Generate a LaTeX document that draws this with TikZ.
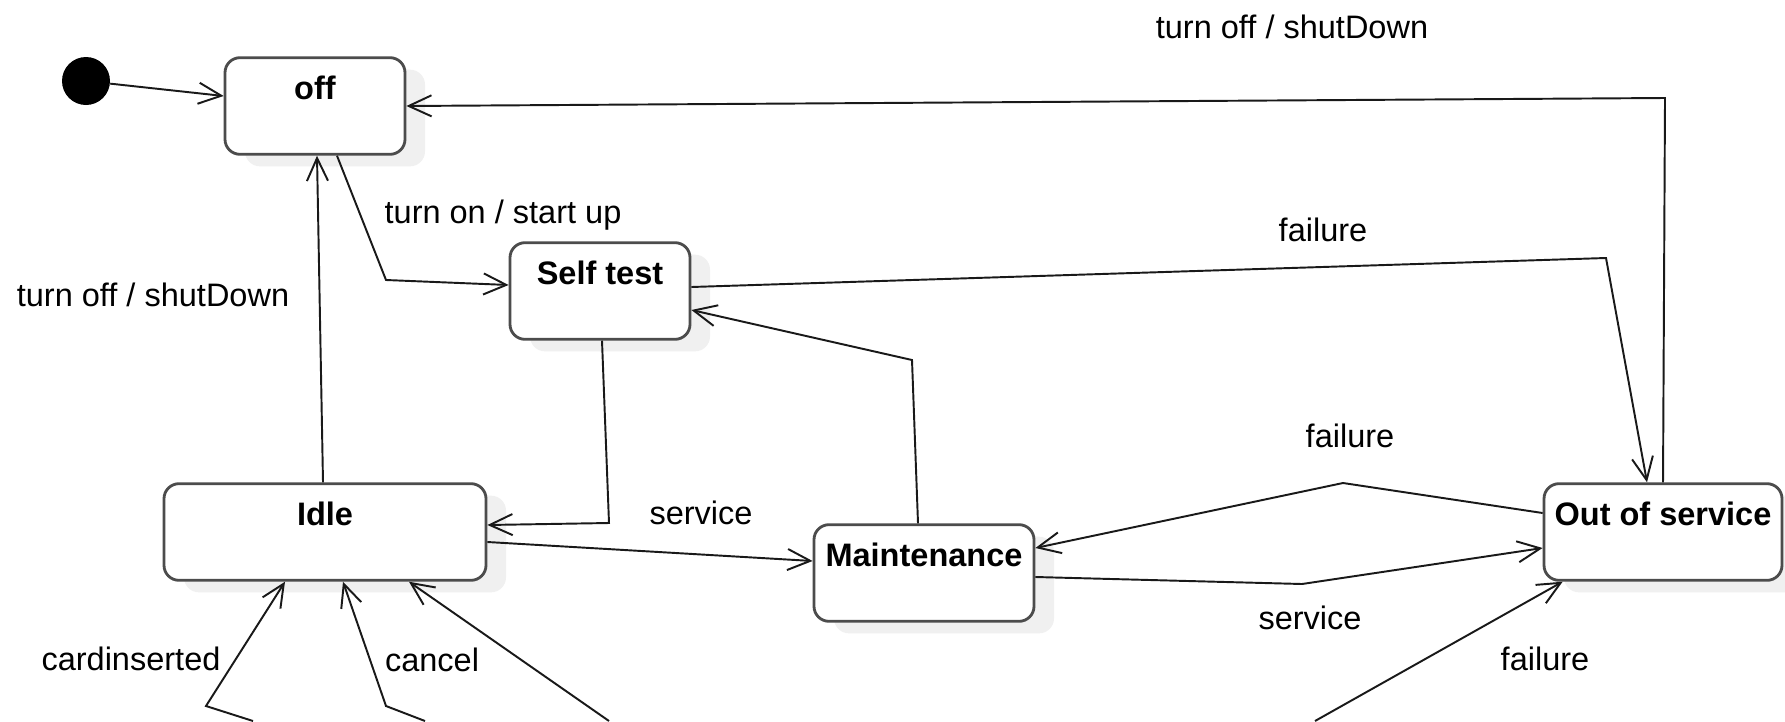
\documentclass[tikz,border=0pt]{standalone}
\usepackage{fontspec}
\setmainfont{Liberation Sans}
\usetikzlibrary{arrows.meta,shadows}

\def\px{.2mm}
\tikzstyle{state}=[rectangle,rounded corners=3mm,draw=black!70,line width=1.6pt,fill=white,inner xsep=0pt,inner ysep=0pt,text height=24pt,text depth=31pt,font=\bfseries\fontsize{18.5}{22}\selectfont,drop shadow={shadow xshift=4mm,shadow yshift=-2.4mm,fill=black!6,opacity=1}]
\tikzstyle{ini}=[circle,fill=black,minimum size=48*\px,inner sep=0pt]
\tikzstyle{tr}=[draw=black!90,line width=1.1pt,-{Straight Barb[length=13pt,width=12pt,line width=1.1pt]}]
\tikzstyle{lbl}=[font=\fontsize{18.5}{22}\selectfont,inner sep=0pt]

\begin{document}
\begin{tikzpicture}[x=\px,y=-\px]
			\path[use as bounding box,fill=white](0,0) rectangle (1785,721);
			% states
			\node[ini](init) at (86,81){};
			\node[state,minimum width=180*\px](off) at (315,106){off};
			\node[state,minimum width=180*\px](selftest) at (600,291){Self test};
			\node[state,minimum width=322*\px](idle) at (325,532){Idle};
			\node[state,minimum width=220*\px](maint) at (924,573){Maintenance};
			\node[state,minimum width=238*\px](oos) at (1663,532){Out of service};
			% free ends at the bottom edge
			\coordinate(k1) at (1665,98);
			\coordinate(b1) at (253,721);
			\coordinate(b2) at (425,721);
			\coordinate(b3) at (609,721);
			\coordinate(b4) at (1315,721);
			% transitions
			\draw[tr](init)--([yshift=10*\px]off.west);
			\draw[tr](oos.north)--(k1)--(off.east);
			\draw[tr]([xshift=22*\px]off.south)--(386,280)--([yshift=6*\px]selftest.west);
			\draw[tr]([xshift=-2*\px]idle.north)--([xshift=2*\px]off.south);
			\draw[tr]([xshift=2*\px]selftest.south)--(609,523)--([yshift=7*\px]idle.east);
			\draw[tr]([yshift=-10*\px]idle.east)--([yshift=12*\px]maint.west);
			\draw[tr]([xshift=-6*\px]maint.north)--(912,360)--([yshift=-19*\px]selftest.east);
			\draw[tr]([yshift=4*\px]selftest.east)--(1606,258)--([xshift=-16*\px]oos.north);
			\draw[tr]([yshift=19*\px]oos.west)--(1343,483)--([yshift=25*\px]maint.east);
			\draw[tr]([yshift=-4*\px]maint.east)--(1302,584)--([yshift=-16*\px]oos.west);
			\draw[tr](b1)--(206,706)--([xshift=-40*\px]idle.south);
			\draw[tr](b2)--(386,706)--([xshift=18*\px]idle.south);
			\draw[tr](b3)--([xshift=84*\px]idle.south);
			\draw[tr](b4)--([xshift=20*\px]oos.south west);
			% labels
			\node[lbl](l1) at (1292,27){turn off / shutDown};
			\node[lbl](l2) at (503,215){turn on / start up};
			\node[lbl](l3) at (153,295){turn off / shutDown};
			\node[lbl](l4) at (701,513){service};
			\node[lbl](l5) at (1323,230){failure};
			\node[lbl](l6) at (1350,436){failure};
			\node[lbl](l7) at (1310,618){service};
			\node[lbl](l8) at (1545,659){failure};
			\node[lbl](l9) at (131,659){cardinserted};
			\node[lbl](l10) at (432,660){cancel};
		\end{tikzpicture}
\end{document}
